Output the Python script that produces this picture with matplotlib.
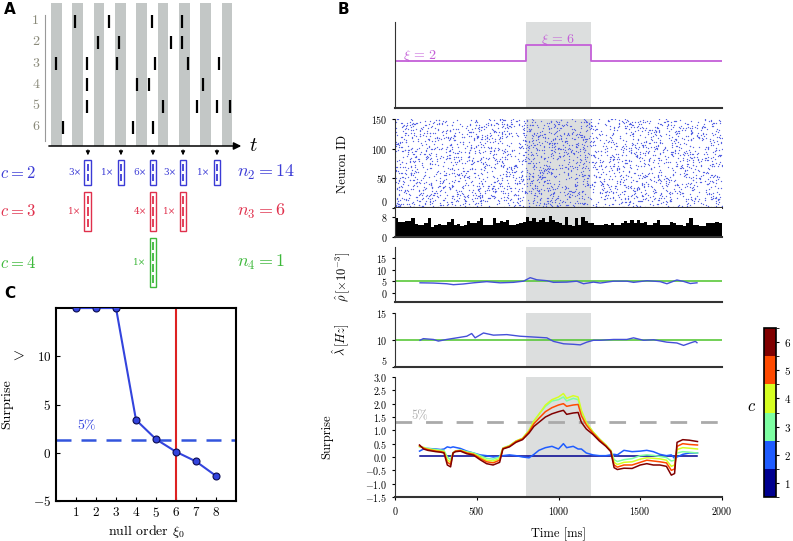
import numpy as np
import matplotlib
matplotlib.use('Agg')
import matplotlib.pyplot as plt
from matplotlib.patches import Rectangle
from matplotlib.colors import ListedColormap, BoundaryNorm
import matplotlib.colorbar as mcolorbar

plt.rcParams['font.family'] = 'serif'
plt.rcParams['font.serif'] = ['cmr10']
plt.rcParams['mathtext.fontset'] = 'cm'
plt.rcParams['axes.formatter.use_mathtext'] = True

# ---------------- data ----------------
# panel A: spike times (in units of the grey bin period), one list per neuron
spikes_a = [
    [1.13, 2.72, 4.73, 6.14],
    [2.20, 3.19, 5.63, 6.14],
    [0.23, 1.69, 3.09, 4.88, 6.42, 7.88],
    [1.69, 4.03, 4.59, 7.13],
    [1.69, 5.25, 6.84, 7.78, 8.39],
    [0.56, 3.84, 4.78],
]
n_bins_a = 9
pattern_t = [1.73, 3.28, 4.78, 6.19, 7.78]
orders = [2, 3, 4]
order_counts = [[3, 1, 6, 3, 1], [1, 0, 4, 1, 0], [0, 0, 1, 0, 0]]
order_totals = [14, 6, 1]
order_colors = ['#3b3bd6', '#e0304c', '#3db83a']

# panel C
null_order = [1, 2, 3, 4, 5, 6, 7, 8]
surprise_c = [15, 15, 15, 3.4, 1.4, 0.1, -0.9, -2.4]
sig_level = 1.3
true_order = 6

# panel B: complexity step
xi_t = [0, 800, 1200, 2000]
xi_val = [2, 6, 2, 2]
window = (800, 1200)

# population histogram (20 ms bins)
hist_counts = [7.7, 6, 6, 6.4, 6.4, 7.7, 5.2, 5, 4.8, 5.5, 7.5, 4, 5, 5.3, 5, 5, 6, 7.3, 5, 5.3,
               4.5, 5, 6.5, 5.5, 5.5, 6.5, 7.5, 5, 5, 5, 7.5, 5.5, 6.5, 6, 7, 5, 5, 5.3, 5.5, 6,
               8, 6.5, 7.8, 6, 7, 7.5, 6, 8.5, 7, 6, 5.8, 4.8, 8.2, 5, 4.5, 7.5, 5, 8, 6.5, 5.5,
               5.5, 5, 5, 5, 5.3, 5, 5.5, 5, 5, 5.5, 6.5, 5.5, 6.8, 5.5, 6.8, 5.5, 6, 5, 5, 5.5,
               7, 5, 5, 5, 6, 5.5, 5, 5, 4.5, 5.5, 7.8, 5, 5, 4.5, 4.5, 5.5, 5.5, 5.5, 6, 5.5]
bin_ms = 20

# rho estimate
rho_t = [153, 235, 316, 357, 418, 480, 561, 643, 724, 786, 827, 867, 929, 969, 1051, 1112, 1153,
         1214, 1255, 1337, 1418, 1459, 1541, 1622, 1663, 1724, 1765, 1806, 1847]
rho_v = [4.4, 4.3, 4.0, 3.6, 3.9, 4.4, 4.9, 4.4, 4.6, 5.1, 6.6, 5.7, 5.3, 4.6, 4.7, 5.1, 4.0,
         4.7, 4.3, 5.1, 5.1, 4.6, 5.3, 4.9, 4.0, 5.6, 5.0, 4.1, 4.4]
rho_true = 5

# lambda estimate
lam_t = [153, 173, 235, 265, 316, 378, 439, 469, 490, 541, 602, 684, 765, 847, 929, 969, 1031,
         1092, 1133, 1173, 1214, 1255, 1337, 1418, 1459, 1520, 1582, 1663, 1724, 1765, 1806, 1837, 1847]
lam_v = [9.95, 10.25, 10.1, 9.8, 10.1, 10.4, 10.7, 11.2, 10.4, 11.3, 10.9, 11.0, 10.7, 10.55, 10.4,
         9.75, 9.3, 9.2, 9.1, 9.6, 9.95, 9.95, 10.1, 10.1, 10.4, 9.95, 10.05, 9.6, 9.45, 9.0, 9.45, 9.75, 9.5]
lam_true = 10

# surprise per complexity c
s_t = [150, 175, 200, 250, 280, 300, 320, 340, 355, 370, 400, 440, 480, 520, 560, 600, 640, 660,
       700, 740, 780, 820, 850, 880, 920, 960, 1000, 1030, 1050, 1090, 1120, 1140, 1170, 1210, 1250,
       1290, 1320, 1340, 1360, 1400, 1450, 1500, 1540, 1580, 1620, 1660, 1690, 1710, 1725, 1760,
       1800, 1850]
s_c1 = [0.05] * len(s_t)
s_c2 = [0.22, 0.3, 0.32, 0.3, 0.28, 0.3, 0.38, 0.35, 0.38, 0.36, 0.32, 0.22, 0.15, 0.08, 0.05, 0.0,
        0.02, 0.05, 0.08, 0.05, 0.0, -0.03, 0.1, 0.25, 0.35, 0.4, 0.3, 0.5, 0.35, 0.4, 0.3, 0.3,
        0.15, 0.08, 0.05, 0.05, 0.08, 0.1, 0.08, 0.25, 0.2, 0.22, 0.25, 0.2, 0.1, 0.05, 0.08, -0.05,
        0.0, 0.1, 0.15, 0.15]
s_c3 = [0.38, 0.36, 0.32, 0.28, 0.26, 0.24, 0.0, -0.1, 0.17, 0.23, 0.26, 0.2, 0.15, 0.05, -0.05,
        -0.08, 0.0, 0.34, 0.43, 0.6, 0.7, 1.0, 1.35, 1.6, 1.9, 2.1, 2.15, 2.25, 2.1, 2.2, 2.15, 1.7,
        1.28, 0.95, 0.68, 0.45, 0.25, -0.1, -0.17, -0.1, -0.06, 0.05, 0.08, 0.06, 0.02, -0.02, -0.15,
        -0.12, 0.15, 0.2, 0.18, 0.15]
s_c4 = [0.4, 0.35, 0.3, 0.25, 0.22, 0.2, -0.1, -0.2, 0.15, 0.22, 0.25, 0.17, 0.12, 0.0, -0.12,
        -0.15, -0.06, 0.33, 0.42, 0.6, 0.7, 1.0, 1.35, 1.6, 1.95, 2.15, 2.25, 2.38, 2.2, 2.3, 2.25,
        1.75, 1.3, 0.95, 0.68, 0.45, 0.24, -0.2, -0.28, -0.2, -0.18, -0.08, -0.03, -0.05, -0.07,
        -0.12, -0.35, -0.3, 0.28, 0.35, 0.33, 0.3]
s_c5 = [0.42, 0.33, 0.28, 0.22, 0.2, 0.17, -0.2, -0.28, 0.15, 0.22, 0.24, 0.15, 0.1, -0.05, -0.18,
        -0.22, -0.12, 0.32, 0.4, 0.58, 0.68, 0.95, 1.25, 1.45, 1.7, 1.85, 1.95, 2.0, 1.9, 1.95, 1.97,
        1.55, 1.2, 0.9, 0.65, 0.42, 0.22, -0.3, -0.38, -0.3, -0.3, -0.2, -0.12, -0.15, -0.18, -0.22,
        -0.5, -0.45, 0.4, 0.5, 0.47, 0.45]
s_c6 = [0.45, 0.3, 0.25, 0.2, 0.18, 0.15, -0.3, -0.37, 0.15, 0.2, 0.22, 0.12, 0.07, -0.1, -0.25,
        -0.3, -0.2, 0.3, 0.38, 0.55, 0.65, 0.9, 1.15, 1.3, 1.5, 1.62, 1.7, 1.75, 1.6, 1.65, 1.67,
        1.3, 1.05, 0.85, 0.6, 0.4, 0.2, -0.4, -0.47, -0.42, -0.43, -0.3, -0.25, -0.3, -0.3, -0.35,
        -0.68, -0.62, 0.55, 0.65, 0.63, 0.58]
surprise_b = [s_c1, s_c2, s_c3, s_c4, s_c5, s_c6]
c_levels = [1, 2, 3, 4, 5, 6]
c_colors = ['#00008f', '#1f5cff', '#7dffa2', '#d6ff22', '#ff4a00', '#800000']

# ---------------- figure ----------------
W, H = 793, 541
fig = plt.figure(figsize=(W / 100, H / 100), dpi=100)


def box(x0, y0, x1, y1):
    # pixel box (top-left origin) -> figure fraction
    return [x0 / W, 1 - y1 / H, (x1 - x0) / W, (y1 - y0) / H]


label_font = dict(family='DejaVu Sans', weight='bold', fontsize=11)
fig.text(4 / W, 1 - 14 / H, 'A', **label_font)
fig.text(338 / W, 1 - 14 / H, 'B', **label_font)
fig.text(4 / W, 1 - 298 / H, 'C', **label_font)

# ---- panel A (x in bin-period units, y in pixels) ----
axA = fig.add_axes(box(0, 0, 300, 295))
period = 21.33
axA.set_xlim(-51 / period, (300 - 51) / period)
axA.set_ylim(295, 0)
axA.axis('off')
row_dy = 21.2
for k in range(n_bins_a):
    axA.add_patch(Rectangle((k, 3), 0.5, 143, color='#c3c7c6', lw=0))
axA.plot([-0.28, -0.28], [15, 141], color='#999999', lw=0.8)
for r, times in enumerate(spikes_a, start=1):
    axA.text(-0.72, r * row_dy, str(r), ha='center', va='center', color='#8a8a7a', fontsize=10)
    for t in times:
        axA.plot([t, t], [r * row_dy - 6.5, r * row_dy + 6.5], color='k', lw=1.6, solid_capstyle='butt')
axA.annotate('', xy=(9.05, 146), xytext=(-0.23, 146),
             arrowprops=dict(arrowstyle='-|>', color='k', lw=1.1, mutation_scale=11))
axA.text(9.3, 146, '$t$', fontsize=15, va='center', ha='left')
for t in pattern_t:
    axA.annotate('', xy=(t, 158), xytext=(t, 147),
                 arrowprops=dict(arrowstyle='-|>', color='k', lw=0.7, mutation_scale=6))

row_top = [160, 192, 238]
row_h = [25, 39, 49]
for i, c in enumerate(orders):
    col = order_colors[i]
    ymid = row_top[i] + row_h[i] / 2
    axA.text(-2.37, ymid, '$c = %d$' % c, color=col, fontsize=12, va='center', ha='left')
    axA.text(8.72, ymid, '$n_%d = %d$' % (c, order_totals[i]), color=col, fontsize=13,
             va='center', ha='left')
    for t, n in zip(pattern_t, order_counts[i]):
        if n == 0:
            continue
        axA.add_patch(Rectangle((t - 0.16, row_top[i]), 0.32, row_h[i], facecolor='white',
                                edgecolor=col, lw=1.0))
        seg = (row_h[i] - 4) / c
        for j in range(c):
            y0 = row_top[i] + 2 + j * seg + 0.15 * seg
            axA.plot([t, t], [y0, y0 + 0.7 * seg], color=col, lw=1.3, solid_capstyle='butt')
        axA.text(t - 0.3, ymid, '%d\u00d7' % n, color=col, fontsize=6.5, ha='right', va='center',
                 family='DejaVu Serif')

# ---- panel C ----
axC = fig.add_axes(box(56, 308, 236, 501))
axC.plot(null_order, surprise_c, color='#3344dd', lw=1.5, marker='o', ms=5,
         mfc='#3344dd', mec='#0c0c50', mew=0.8, zorder=3)
axC.axhline(sig_level, color='#3355dd', lw=1.8, dashes=(6, 4))
axC.axvline(true_order, color='#dd2222', lw=1.5)
axC.text(1.55, 2.1, '5%', color='#3344dd', fontsize=10, ha='center', va='bottom')
axC.set_xlim(0, 9)
axC.set_ylim(-5, 15)
axC.set_xticks(null_order)
axC.set_yticks([-5, 0, 5, 10])
axC.tick_params(direction='in', labelsize=9.5, length=3)
for s in axC.spines.values():
    s.set_linewidth(1.5)
axC.set_xlabel(r'null order $\xi_0$', fontsize=10, labelpad=2)
axC.set_ylabel('Surprise', fontsize=10)
axC.yaxis.set_label_coords(-0.24, 0.5)
fig.text(18 / W, 1 - 356 / H, '$>$', fontsize=11, ha='center', va='center')

# ---- panel B ----
grey_span = '#dcdede'
blue = '#4450d8'
green = '#5ac83a'


def style_b(ax, bottom_ticks=False):
    ax.set_xlim(0, 2000)
    ax.spines['top'].set_visible(False)
    ax.spines['right'].set_visible(False)
    ax.spines['bottom'].set_linewidth(1.5)
    ax.spines['bottom'].set_color('#333333')
    ax.spines['left'].set_color('#333333')
    ax.axvspan(*window, color=grey_span, lw=0, zorder=0)
    ax.tick_params(labelsize=7.2, length=2, direction='out')
    if not bottom_ticks:
        ax.set_xticks([])


ax1 = fig.add_axes(box(395, 22, 722, 108))
style_b(ax1)
ax1.step(xi_t, xi_val, where='post', color='#c45fd8', lw=1.3)
ax1.set_ylim(-9.75, 11.75)
ax1.set_yticks([])
ax1.text(50, 2.6, r'$\xi\,=\,2$', color='#c45fd8', fontsize=10)
ax1.text(1000, 6.6, r'$\xi\,=\,6$', color='#c45fd8', fontsize=10, ha='center')

# raster: dots spread inside each histogram bin by a fixed hash of the spike index
raster_t, raster_id = [], []
k = 0
for b, h in enumerate(hist_counts):
    for j in range(int(round(h * 5))):
        k += 1
        u = (np.sin(k * 12.9898) * 43758.5453) % 1
        v = (np.sin(k * 78.233) * 24634.6345) % 1
        raster_t.append(b * bin_ms + bin_ms * u)
        raster_id.append(150 * v)
ax2 = fig.add_axes(box(395, 119, 722, 208))
style_b(ax2)
ax2.scatter(raster_t, raster_id, s=0.9, color='#5562e4', lw=0)
ax2.set_ylim(0, 150)
ax2.set_yticks([0, 50, 100, 150])
ax2.get_yticklabels()[0].set_va('bottom')
ax2.set_ylabel('Neuron ID', fontsize=9)
ax2.yaxis.set_label_coords(-0.14, 0.5)

ax3 = fig.add_axes(box(395, 208, 722, 237))
style_b(ax3)
ax3.bar(np.arange(len(hist_counts)) * bin_ms, hist_counts, width=bin_ms, align='edge',
        color='k', lw=0)
ax3.set_ylim(0, 11.6)
ax3.set_yticks([0, 8])

ax4 = fig.add_axes(box(395, 247, 722, 302))
style_b(ax4)
ax4.axhline(rho_true, color=green, lw=1.2)
ax4.plot(rho_t, rho_v, color=blue, lw=1.0)
ax4.set_ylim(-3.8, 19.7)
ax4.set_yticks([0, 5, 10, 15])
ax4.set_ylabel(r'$\hat{\rho}\,[\times 10^{-3}]$', fontsize=9)
ax4.yaxis.set_label_coords(-0.13, 0.45)

ax5 = fig.add_axes(box(395, 313, 722, 367))
style_b(ax5)
ax5.axhline(lam_true, color=green, lw=1.2)
ax5.plot(lam_t, lam_v, color=blue, lw=1.0)
ax5.set_ylim(5, 15)
ax5.set_yticks([5, 10, 15])
ax5.get_yticklabels()[0].set_va('bottom')
ax5.set_ylabel(r'$\hat{\lambda}\,[Hz]$', fontsize=9)
ax5.yaxis.set_label_coords(-0.13, 0.5)

ax6 = fig.add_axes(box(395, 377, 722, 497))
style_b(ax6, bottom_ticks=True)
ax6.axhline(sig_level, color='#aaaaaa', lw=2, dashes=(6, 5), zorder=1)
ax6.text(100, 1.4, '5%', color='#aaaaaa', fontsize=9)
for vals, col in zip(surprise_b, c_colors):
    ax6.plot(s_t, vals, color=col, lw=1.1, zorder=2)
ax6.set_ylim(-1.5, 3.0)
ax6.set_yticks(np.arange(-1.5, 3.01, 0.5))
ax6.set_xticks([0, 500, 1000, 1500, 2000])
ax6.set_xlabel('Time [ms]', fontsize=9)
ax6.set_ylabel('Surprise', fontsize=9)
ax6.yaxis.set_label_coords(-0.19, 0.5)
ax6.xaxis.labelpad = 8

# colorbar for c
cax = fig.add_axes(box(764, 328, 776, 497))
cb = mcolorbar.ColorbarBase(cax, cmap=ListedColormap(c_colors),
                            norm=BoundaryNorm(np.arange(0.5, 7), 6), ticks=c_levels)
cb.outline.set_linewidth(1.2)
cax.tick_params(labelsize=8, length=2)
fig.text(752 / W, 1 - 406 / H, '$c$', fontsize=12, ha='center', va='center')

fig.savefig('out.png', dpi=100)
